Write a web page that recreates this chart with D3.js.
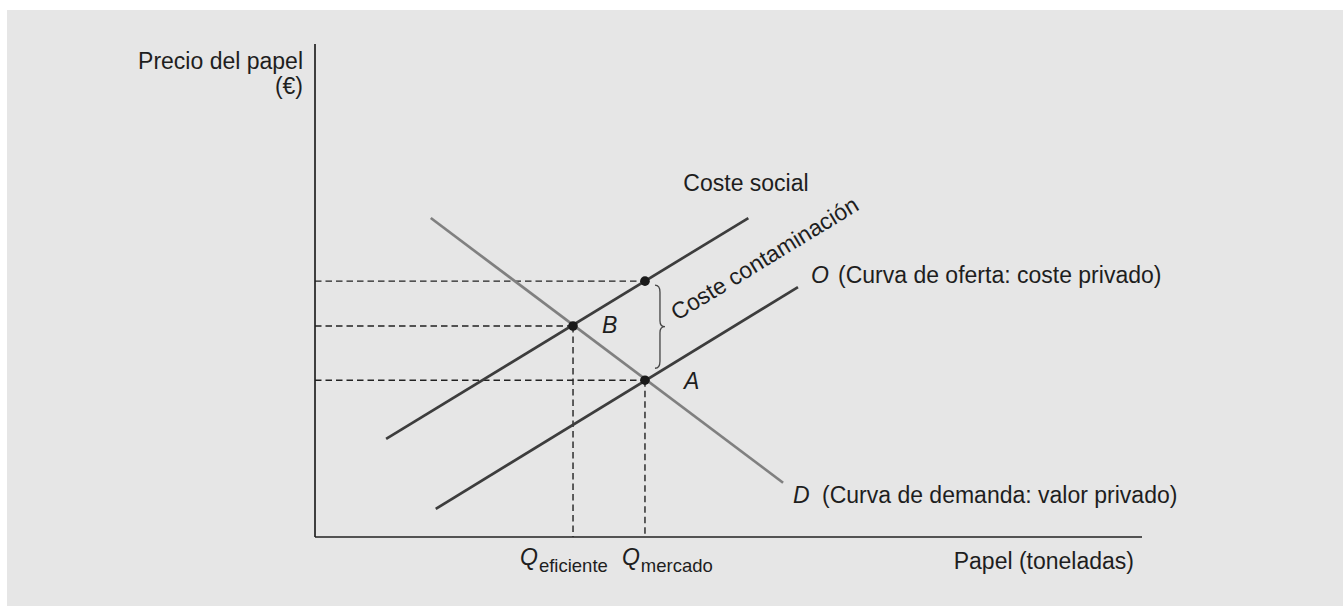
<!DOCTYPE html>
<meta charset="utf-8">
<head>
    <title>Coste social y contaminación</title>
    <script src="https://d3js.org/d3.v7.min.js"></script>
    <style>
        body { margin: 0; background: #fff; font-family: 'Liberation Sans', Arial, sans-serif; }
        svg { display: block; }
        text { fill: #1e1e1e; font-size: 23px; }
        .axis { stroke: #222; stroke-width: 1.7; }
        .guide { stroke: #222; stroke-width: 1.4; stroke-dasharray: 6.5 4; }
        .curve { fill: none; stroke-width: 2.7; }
        .it { font-style: italic; }
    </style>
</head>
<body>
<svg width="1343" height="606"></svg>
<script>
    // curves, in chart units (x: 0-100 paper, y: 0-100 price)
    const socialCost = [[8.6, 19.9], [52.4, 64.7]];
    const supply = [[14.6, 5.7], [58.4, 50.7]];
    const demand = [[14.0, 64.7], [56.6, 11.0]];

    const quantities = [31.2, 39.9];        // Q eficiente, Q mercado
    const prices = [31.8, 42.8, 51.9];      // A, B, top of coste social
    const points = [
        {name: 'B', x: 31.2, y: 42.8},
        {name: 'A', x: 39.9, y: 31.8},
        {name: '', x: 39.9, y: 51.9}
    ];
    const qLabels = ['eficiente', 'mercado'];

    const svg = d3.select('svg');
    svg.append('rect')
        .attr('x', 7).attr('y', 10)
        .attr('width', 1343).attr('height', 606)
        .attr('fill', '#e6e6e6');

    const x = d3.scaleLinear().domain([0, 100]).range([315, 1142]);
    const y = d3.scaleLinear().domain([0, 100]).range([537, 44]);

    // dashed guide lines
    points.forEach(p => {
        svg.append('line').attr('class', 'guide')
            .attr('x1', x(0)).attr('x2', x(p.x))
            .attr('y1', y(p.y)).attr('y2', y(p.y));
    });
    quantities.forEach(q => {
        const top = d3.min(points.filter(p => p.x === q), p => p.y);
        svg.append('line').attr('class', 'guide')
            .attr('x1', x(q)).attr('x2', x(q))
            .attr('y1', y(top)).attr('y2', y(0));
    });

    // axes
    svg.append('line').attr('class', 'axis')
        .attr('x1', x(0)).attr('x2', x(0)).attr('y1', y(100)).attr('y2', y(0));
    svg.append('line').attr('class', 'axis')
        .attr('x1', x(0)).attr('x2', x(100)).attr('y1', y(0)).attr('y2', y(0));

    const line = d3.line().x(d => x(d[0])).y(d => y(d[1]));
    svg.append('path').attr('class', 'curve').attr('d', line(demand)).attr('stroke', '#808080');
    svg.append('path').attr('class', 'curve').attr('d', line(socialCost)).attr('stroke', '#3d3d3d');
    svg.append('path').attr('class', 'curve').attr('d', line(supply)).attr('stroke', '#3d3d3d');

    svg.selectAll('circle.pt')
        .data(points)
        .enter()
        .append('circle')
        .attr('cx', d => x(d.x))
        .attr('cy', d => y(d.y))
        .attr('r', 4.8)
        .attr('fill', '#1a1a1a');

    // point labels
    svg.append('text').attr('class', 'it').attr('x', x(points[0].x) + 29).attr('y', y(points[0].y) + 7).text('B');
    svg.append('text').attr('class', 'it').attr('x', x(points[1].x) + 39).attr('y', y(points[1].y) + 9).text('A');

    // brace between A and top point
    const bx = x(quantities[1]) + 10;
    const yT = y(prices[2]) + 4, yB = y(prices[0]) - 12, yM = (yT + yB) / 2;
    svg.append('path')
        .attr('d', `M${bx},${yT} Q${bx + 5},${yT} ${bx + 5},${yT + 7} L${bx + 5},${yM - 6} Q${bx + 5},${yM} ${bx + 10},${yM}`
            + ` Q${bx + 5},${yM} ${bx + 5},${yM + 6} L${bx + 5},${yB - 7} Q${bx + 5},${yB} ${bx},${yB}`)
        .attr('fill', 'none')
        .attr('stroke', '#444')
        .attr('stroke-width', 1.3);

    // curve labels
    const angle = Math.atan2(y(socialCost[1][1]) - y(socialCost[0][1]), x(socialCost[1][0]) - x(socialCost[0][0])) * 180 / Math.PI;
    svg.append('text')
        .attr('transform', `translate(677,321) rotate(${angle})`)
        .text('Coste contaminación');

    svg.append('text').attr('x', x(socialCost[1][0]) - 65).attr('y', y(socialCost[1][1]) - 27).text('Coste social');

    svg.append('text').attr('class', 'it').attr('x', 811).attr('y', 283).text('O');
    svg.append('text').attr('x', 838).attr('y', 283).text('(Curva de oferta: coste privado)');
    svg.append('text').attr('class', 'it').attr('x', 793).attr('y', 503).text('D');
    svg.append('text').attr('x', 822).attr('y', 503).text('(Curva de demanda: valor privado)');

    // axis labels
    svg.append('text').attr('x', 303).attr('y', 69).attr('text-anchor', 'end').text('Precio del papel');
    svg.append('text').attr('x', 303).attr('y', 94).attr('text-anchor', 'end').text('(€)');
    svg.append('text').attr('x', 1134).attr('y', 569).attr('text-anchor', 'end').text('Papel (toneladas)');

    quantities.forEach((q, i) => {
        const t = svg.append('text').attr('x', x(q) - 53 + (i ? 30 : 0)).attr('y', 565);
        t.append('tspan').attr('class', 'it').text('Q');
        t.append('tspan').attr('dx', 1).attr('dy', 7).style('font-size', '18.5px').text(qLabels[i]);
    });
</script>
</body>
